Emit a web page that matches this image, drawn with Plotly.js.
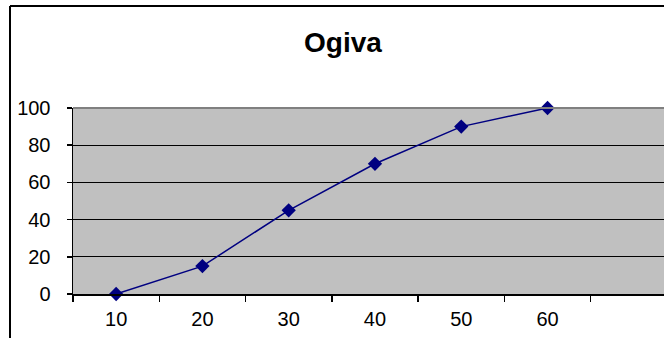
<!DOCTYPE html>
<html>
<head>
<meta charset="utf-8">
<script src="https://cdn.plot.ly/plotly-3.0.1.min.js"></script>
<style>
html, body { margin: 0; padding: 0; background: #fff; }
#chart { width: 664px; height: 338px; }
</style>
</head>
<body>
<div id="chart"></div>
<script>
var categories = ['10', '20', '30', '40', '50', '60'];
var values = [0, 15, 45, 70, 90, 100];
var yTicks = [0, 20, 40, 60, 80, 100];
var chartTitle = 'Ogiva';

var W = 664, H = 338, ML = 73, MT = 108, MB = 44;
var plotW = W - ML, plotH = H - MT - MB;
function px(x) { return (x - ML) / plotW; }
function py(y) { return (H - MB - y) / plotH; }

var trace = {
  x: categories,
  y: values,
  type: 'scatter',
  mode: 'lines+markers',
  line: { color: '#000080', width: 1.5 },
  marker: { symbol: 'diamond', size: 11, color: '#000080' },
  cliponaxis: false,
  hoverinfo: 'skip'
};

var layout = {
  width: W, height: H,
  margin: { l: ML, r: 0, t: MT, b: MB, pad: 0 },
  paper_bgcolor: '#ffffff',
  plot_bgcolor: '#c0c0c0',
  showlegend: false,
  font: { family: 'Liberation Sans, Arial, sans-serif', color: '#000000', size: 20 },
  title: {
    text: '<b>' + chartTitle + '</b>',
    font: { family: 'Liberation Sans, Arial, sans-serif', size: 28, color: '#000000' },
    xref: 'container', yref: 'container',
    x: 343 / W, xanchor: 'center',
    y: 1 - 42 / H, yanchor: 'middle'
  },
  xaxis: {
    type: 'category',
    tickson: 'boundaries',
    range: [-0.5, 6.35],
    ticks: 'outside', ticklen: 6, tickwidth: 1.5, tickcolor: '#000000',
    ticklabelstandoff: 6,
    showline: true, linecolor: '#000000', linewidth: 1.5,
    showgrid: false, zeroline: false,
    tickfont: { size: 20 },
    fixedrange: true
  },
  yaxis: {
    range: [0, 100],
    tickvals: yTicks,
    ticks: 'outside', ticklen: 5, tickwidth: 1.5, tickcolor: '#000000',
    ticklabelstandoff: 12,
    showline: true, linecolor: '#000000', linewidth: 1.5,
    showgrid: true, gridcolor: '#000000', gridwidth: 1,
    zeroline: false,
    tickfont: { size: 20 },
    fixedrange: true
  },
  shapes: [
    { type: 'line', xref: 'paper', yref: 'paper', x0: 0, x1: 1.2, y0: 1, y1: 1,
      line: { color: '#808080', width: 2 } },
    { type: 'line', xref: 'paper', yref: 'paper', x0: px(10), x1: px(10), y0: py(6), y1: py(345),
      line: { color: '#000000', width: 2 } },
    { type: 'line', xref: 'paper', yref: 'paper', x0: px(10), x1: px(700), y0: py(6), y1: py(6),
      line: { color: '#000000', width: 2 } }
  ]
};

Plotly.newPlot('chart', [trace], layout, { staticPlot: true, displayModeBar: false });
</script>
</body>
</html>
